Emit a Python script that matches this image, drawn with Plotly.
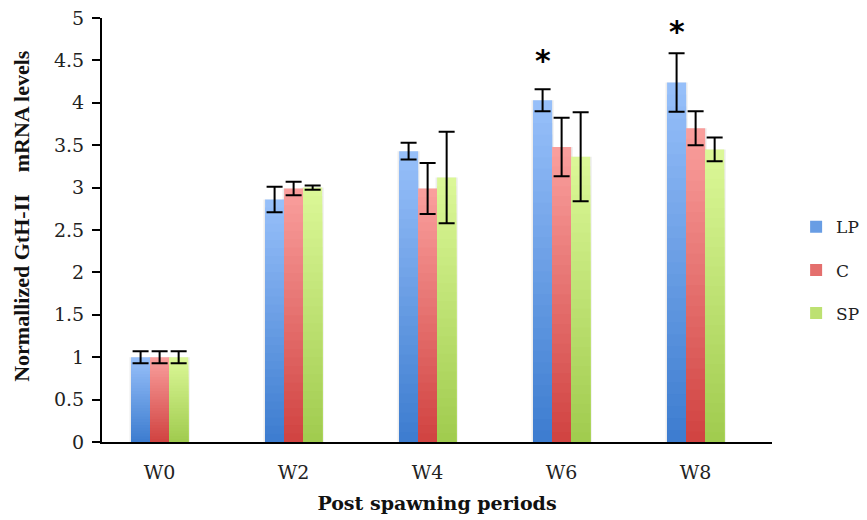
import plotly.graph_objects as go

categories = ["W0", "W2", "W4", "W6", "W8"]
series_names = ["LP", "C", "SP"]
lp = [1.00, 2.86, 3.43, 4.03, 4.24]
lp_err = [0.07, 0.15, 0.10, 0.13, 0.345]
c = [1.00, 2.99, 2.99, 3.48, 3.70]
c_err = [0.07, 0.08, 0.30, 0.345, 0.20]
sp = [1.00, 3.00, 3.12, 3.365, 3.45]
sp_err = [0.07, 0.025, 0.54, 0.525, 0.14]
y_ticks = [0, 0.5, 1, 1.5, 2, 2.5, 3, 3.5, 4, 4.5, 5]
star_categories = ["W6", "W8"]
star_y = [4.54, 4.88]

values = [lp, c, sp]
errors = [lp_err, c_err, sp_err]
top_colors = [(152, 192, 250), (250, 160, 158), (220, 248, 152)]
bottom_colors = [(60, 124, 207), (208, 66, 64), (160, 203, 78)]

bar_w = 0.142
offsets = [-1.5 * bar_w, -0.5 * bar_w, 0.5 * bar_w]
N = 30

fig = go.Figure()

# soft shadow behind bars
for s in range(3):
    fig.add_trace(go.Bar(
        x=categories, y=values[s], offset=offsets[s] - 0.012, width=bar_w + 0.024,
        marker=dict(color="rgba(0,0,0,0.07)", line=dict(width=0)),
        showlegend=False, hoverinfo="skip"))

# gradient bars built from overlaid fractions of each value
for s in range(3):
    tc, bc = top_colors[s], bottom_colors[s]
    for k in range(N):
        frac_top = (N - k) / N
        t = (N - k - 0.5) / N
        col = tuple(int(round(bc[i] + (tc[i] - bc[i]) * t)) for i in range(3))
        fig.add_trace(go.Bar(
            x=categories, y=[v * frac_top for v in values[s]],
            offset=offsets[s], width=bar_w,
            marker=dict(color="rgb(%d,%d,%d)" % col, line=dict(width=0)),
            name=series_names[s], legendgroup=series_names[s],
            showlegend=(k == N // 2), hoverinfo="skip"))

# error bars
for s in range(3):
    fig.add_trace(go.Bar(
        x=categories, y=values[s], offset=offsets[s], width=bar_w,
        marker=dict(color="rgba(0,0,0,0)", line=dict(width=0)),
        error_y=dict(type="data", array=errors[s], color="black", thickness=2, width=8),
        showlegend=False, name=series_names[s]))

for cat, yv in zip(star_categories, star_y):
    fig.add_annotation(x=cat, y=yv, text="<b>*</b>", showarrow=False,
                       xshift=-19, yshift=-3,
                       font=dict(family="DejaVu Sans", size=30, color="black"))

nb = "\u00a0"
fig.update_layout(
    width=867, height=520,
    barmode="overlay",
    plot_bgcolor="white", paper_bgcolor="white",
    margin=dict(l=94, r=103, t=10, b=86, autoexpand=False),
    font=dict(family="DejaVu Serif", color="#222"),
    legend=dict(x=1.036, y=0.405, xanchor="left", yanchor="middle",
                font=dict(family="DejaVu Serif", size=17, color="#222"),
                tracegroupgap=18, itemwidth=30, bgcolor="rgba(0,0,0,0)"),
    xaxis=dict(type="category", categoryorder="array", categoryarray=categories,
               range=[-0.43, 4.57], showline=True, linecolor="black", linewidth=2,
               ticks="", ticklabelstandoff=12,
               tickfont=dict(family="DejaVu Serif", size=19, color="#222"),
               title=dict(text="<b>Post spawning periods</b>", standoff=15,
                          font=dict(family="DejaVu Serif", size=19, color="#111"))),
    yaxis=dict(range=[0, 5], tickvals=y_ticks, ticktext=[("%g" % v) for v in y_ticks],
               showline=True, linecolor="black", linewidth=2,
               ticks="outside", ticklen=8, tickwidth=2, tickcolor="black",
               showgrid=False, zeroline=False, ticklabelstandoff=4,
               ticklabeloverflow="allow",
               tickfont=dict(family="DejaVu Serif", size=19, color="#222"),
               title=dict(text="<b>" + nb * 5 + "Normallized GtH-II" + nb * 4 + "mRNA levels</b>",
                          standoff=18,
                          font=dict(family="Liberation Serif", size=22, color="#111"))),
)

fig.write_html("out.html")
